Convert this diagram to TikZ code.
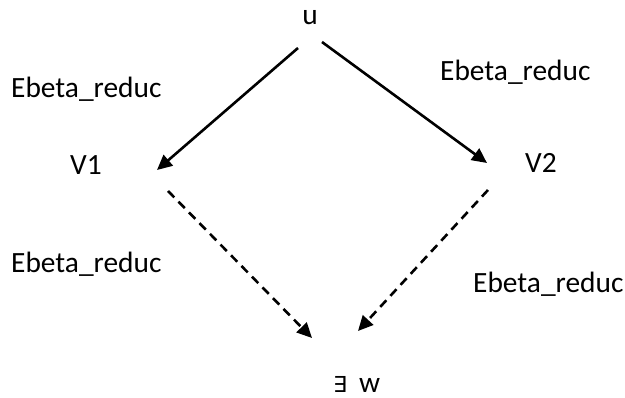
\documentclass[tikz,border=0pt]{standalone}
\usepackage{fontspec}
\setmainfont{Carlito}
\newfontfamily\symfont{DejaVu Sans}
\usetikzlibrary{arrows.meta}

\begin{document}
\begin{tikzpicture}[x=1pt,y=-1pt,
  lbl/.style={inner sep=0pt,anchor=base west,font=\fontsize{29.4}{35}\selectfont},
  redarrow/.style={line width=2.6pt,-{Triangle[length=15pt,width=14pt]}},
  joinarrow/.style={redarrow,dash pattern=on 9pt off 6pt}]
\useasboundingbox (0,0) rectangle (625,398);

% terms
\node[lbl,anchor=base] (u) at (310,25) {u};
\node[lbl] (v1) at (70,175) {V1};
\node[lbl] (v2) at (525,173) {V2};
\node[lbl] (w) at (333,393) {{\symfont\fontsize{22}{26}\selectfont ∃}\hspace{12pt}w};

% reduction labels
\node[lbl] (l1) at (11,98) {Ebeta\_reduc};
\node[lbl] (l2) at (440,81) {Ebeta\_reduc};
\node[lbl] (l3) at (11,273) {Ebeta\_reduc};
\node[lbl] (l4) at (473,293) {Ebeta\_reduc};

% arrow end points
\coordinate (uL) at (298,48);
\coordinate (uR) at (322,42);
\coordinate (v1in) at (157,170);
\coordinate (v2in) at (487,163);
\coordinate (v1out) at (168,191);
\coordinate (v2out) at (488,190);
\coordinate (wL) at (312,338);
\coordinate (wR) at (358,331);

% one-step reductions
\draw[redarrow] (uL) -- (v1in);
\draw[redarrow] (uR) -- (v2in);

% joining reductions
\draw[joinarrow] (v1out) -- (wL);
\draw[joinarrow] (v2out) -- (wR);
\end{tikzpicture}
\end{document}
